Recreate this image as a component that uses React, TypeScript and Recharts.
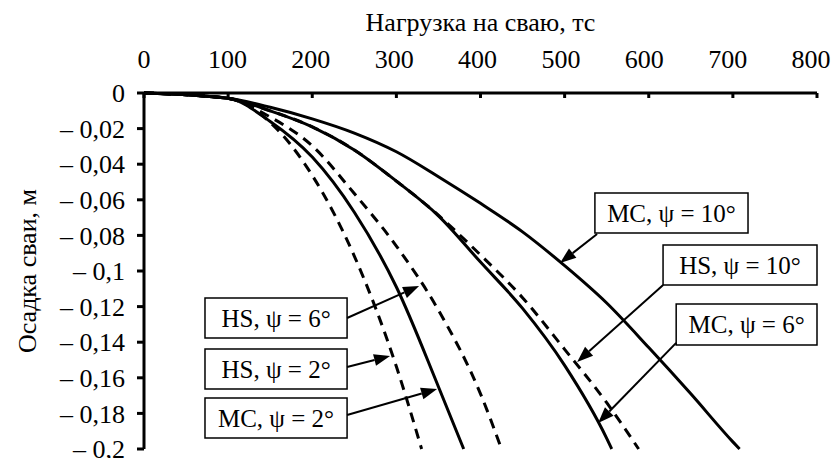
import { LineChart, Line, XAxis, YAxis, ReferenceArea, ReferenceLine } from "recharts";

const FONT = '"Liberation Serif", "Times New Roman", serif';

// нагрузка, тс / осадка, м
const loadMC10 = [0, 100, 150, 200, 250, 300, 350, 400, 450, 500, 550, 600, 650, 700, 708];
const settleMC10 = [0, -0.003, -0.008, -0.0145, -0.0225, -0.033, -0.047, -0.062, -0.078, -0.097, -0.118, -0.143, -0.169, -0.196, -0.2];

const loadHS10 = [0, 100, 150, 200, 250, 300, 340, 400, 450, 500, 550, 588];
const settleHS10 = [0, -0.003, -0.01, -0.019, -0.032, -0.0495, -0.0646, -0.091, -0.115, -0.144, -0.174, -0.2];

const loadMC6 = [0, 100, 150, 200, 250, 300, 350, 400, 450, 500, 550, 556];
const settleMC6 = [0, -0.003, -0.01, -0.019, -0.032, -0.0495, -0.069, -0.095, -0.121, -0.153, -0.194, -0.2];

const loadHS6 = [0, 100, 150, 200, 250, 300, 350, 400, 425];
const settleHS6 = [0, -0.003, -0.0135, -0.0297, -0.0565, -0.086, -0.122, -0.169, -0.2];

const loadMC2 = [0, 100, 150, 200, 250, 300, 350, 380];
const settleMC2 = [0, -0.003, -0.016, -0.036, -0.067, -0.109, -0.165, -0.2];

const loadHS2 = [0, 100, 150, 200, 250, 300, 330];
const settleHS2 = [0, -0.003, -0.0165, -0.0463, -0.0916, -0.1537, -0.2];

const xTicks = [0, 100, 200, 300, 400, 500, 600, 700, 800];
const yTicks = [0, -0.02, -0.04, -0.06, -0.08, -0.1, -0.12, -0.14, -0.16, -0.18, -0.2];

const toPoints = (loads: number[], settles: number[]) =>
  loads.map((x, i) => ({ x, y: settles[i] }));

const series = [
  { key: "mc10", data: toPoints(loadMC10, settleMC10), dashed: false },
  { key: "hs10", data: toPoints(loadHS10, settleHS10), dashed: true },
  { key: "mc6", data: toPoints(loadMC6, settleMC6), dashed: false },
  { key: "hs6", data: toPoints(loadHS6, settleHS6), dashed: true },
  { key: "mc2", data: toPoints(loadMC2, settleMC2), dashed: false },
  { key: "hs2", data: toPoints(loadHS2, settleHS2), dashed: true },
];

// callout boxes and arrows, in data units
const callouts = [
  { text: "MC, ψ = 10°", x1: 536, x2: 718, y1: -0.0562, y2: -0.0787, from: [538.6, -0.0792], to: [494.6, -0.0955] },
  { text: "HS, ψ = 10°", x1: 617, x2: 800, y1: -0.0854, y2: -0.1079, from: [617.1, -0.1079], to: [514.9, -0.1511] },
  { text: "MC, ψ = 6°", x1: 632.6, x2: 800, y1: -0.1185, y2: -0.1416, from: [632.6, -0.1404], to: [539.8, -0.1854] },
  { text: "HS, ψ = 6°", x1: 72.5, x2: 241.4, y1: -0.1152, y2: -0.1376, from: [241.4, -0.1264], to: [327, -0.1084] },
  { text: "HS, ψ = 2°", x1: 72.5, x2: 241.4, y1: -0.1438, y2: -0.1663, from: [241.4, -0.1539], to: [292.5, -0.1478] },
  { text: "MC, ψ = 2°", x1: 72.5, x2: 241.4, y1: -0.1713, y2: -0.1938, from: [241.4, -0.1809], to: [348.4, -0.1663] },
];

const fmtY = (v: number) => (v === 0 ? "0" : "– " + String(Math.abs(v)).replace(".", ","));

const TopTick = (props: any) => {
  const { x, y, payload } = props;
  // labels in the original drift slightly left of their ticks towards the right end
  const dx = -(payload.value / 800) * 6;
  return (
    <g>
      <line x1={x} y1={y + 25} x2={x} y2={y + 30} stroke="#000" strokeWidth={3} />
      <text x={x + dx} y={y} textAnchor="middle" fontSize={26} fontFamily={FONT} fill="#000">
        {payload.value}
      </text>
    </g>
  );
};

const Arrow = (props: any) => {
  const { x1, y1, x2, y2 } = props;
  const a = Math.atan2(y2 - y1, x2 - x1);
  const len = 16;
  const half = 6;
  const bx = x2 - len * Math.cos(a);
  const by = y2 - len * Math.sin(a);
  const px = -Math.sin(a) * half;
  const py = Math.cos(a) * half;
  return (
    <g>
      <line x1={x1} y1={y1} x2={bx} y2={by} stroke="#000" strokeWidth={2} />
      <polygon points={`${x2},${y2} ${bx + px},${by + py} ${bx - px},${by - py}`} fill="#000" />
    </g>
  );
};

export default function App() {
  return (
    <div style={{ position: "absolute", left: 0, top: 0, width: 832, height: 458, background: "#fff" }}>
      <LineChart
        width={832}
        height={458}
        margin={{ top: 0, right: 15, bottom: 9, left: 0 }}
        style={{ fontFamily: FONT }}
      >
        <XAxis
          type="number"
          dataKey="x"
          orientation="top"
          domain={[0, 800]}
          ticks={xTicks}
          interval={0}
          height={93}
          tickSize={0}
          tickMargin={25}
          tickLine={false}
          tick={<TopTick />}
          axisLine={{ stroke: "#000", strokeWidth: 3 }}
          label={{
            content: (p: any) => (
              <text
                x={p.viewBox.x + p.viewBox.width / 2}
                y={p.viewBox.y + 31}
                textAnchor="middle"
                fontSize={26}
                fontFamily={FONT}
                fill="#000"
              >
                Нагрузка на сваю, тс
              </text>
            ),
          }}
        />
        <YAxis
          type="number"
          dataKey="y"
          domain={[-0.2, 0]}
          ticks={yTicks}
          interval={0}
          width={144}
          tickSize={7}
          tickMargin={12}
          tickFormatter={fmtY}
          tick={{ fontSize: 26, fill: "#000", fontFamily: FONT }}
          tickLine={{ stroke: "#000", strokeWidth: 3 }}
          axisLine={{ stroke: "#000", strokeWidth: 3 }}
          label={{
            content: (p: any) => {
              const cx = p.viewBox.x + 27;
              const cy = p.viewBox.y + p.viewBox.height / 2;
              return (
                <text
                  x={cx}
                  y={cy}
                  transform={`rotate(-90 ${cx} ${cy})`}
                  textAnchor="middle"
                  dominantBaseline="central"
                  fontSize={26}
                  fontFamily={FONT}
                  fill="#000"
                >
                  Осадка сваи, м
                </text>
              );
            },
          }}
        />
        {series.map((s) => (
          <Line
            key={s.key}
            name={s.key}
            data={s.data}
            dataKey="y"
            type="monotone"
            stroke="#000"
            strokeWidth={3}
            strokeDasharray={s.dashed ? "10 7" : undefined}
            dot={false}
            activeDot={false}
            isAnimationActive={false}
          />
        ))}
        {callouts.map((c) => (
          <ReferenceLine
            key={"a" + c.text}
            segment={[
              { x: c.from[0], y: c.from[1] },
              { x: c.to[0], y: c.to[1] },
            ]}
            ifOverflow="visible"
            shape={<Arrow />}
          />
        ))}
        {callouts.map((c) => (
          <ReferenceArea
            key={"b" + c.text}
            x1={c.x1}
            x2={c.x2}
            y1={c.y1}
            y2={c.y2}
            ifOverflow="visible"
            fill="#fff"
            fillOpacity={1}
            stroke="#000"
            strokeWidth={1.5}
            label={{ value: c.text, position: "center", fontSize: 25, fill: "#000", fontFamily: FONT }}
          />
        ))}
      </LineChart>
    </div>
  );
}
